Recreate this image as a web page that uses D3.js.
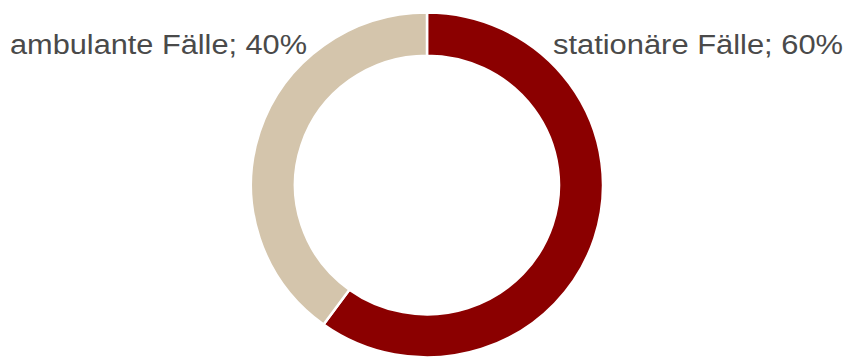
<!DOCTYPE html>
<html><head><meta charset="utf-8">
<script src="https://cdn.jsdelivr.net/npm/d3@7"></script>
<style>body{margin:0;background:#fff}svg{display:block}</style>
</head><body>
<svg id="c" width="849" height="360"></svg>
<script>
const categories = ["stationäre Fälle", "ambulante Fälle"];
const values = [60, 40];
const colors = ["#8B0000", "#D4C5AC"];

const svg = d3.select("#c");
const cx = 427, cy = 185, rOuter = 176, rInner = 132;
const g = svg.append("g").attr("transform", `translate(${cx},${cy}) scale(1,0.98)`);
const pie = d3.pie().sort(null).value(d => d.v);
const arcs = pie(categories.map((c, i) => ({c, v: values[i], col: colors[i]})));
const arc = d3.arc().innerRadius(rInner).outerRadius(rOuter);
g.selectAll("path").data(arcs).join("path")
  .attr("d", arc).attr("fill", d => d.data.col)
  .attr("stroke", "#fff").attr("stroke-width", 2.5);

const lab = [
  {t: `${categories[1]}; ${values[1]}%`, x: 10, w: 297},
  {t: `${categories[0]}; ${values[0]}%`, x: 553, w: 290}
];
svg.selectAll("text.lbl").data(lab).join("text").attr("class","lbl")
  .attr("x", d => d.x).attr("y", 54)
  .attr("textLength", d => d.w).attr("lengthAdjust", "spacingAndGlyphs")
  .attr("font-family", "Liberation Sans, Arial, sans-serif")
  .attr("font-size", 27).attr("fill", "#4a4a4a")
  .text(d => d.t);
</script>
</body></html>
